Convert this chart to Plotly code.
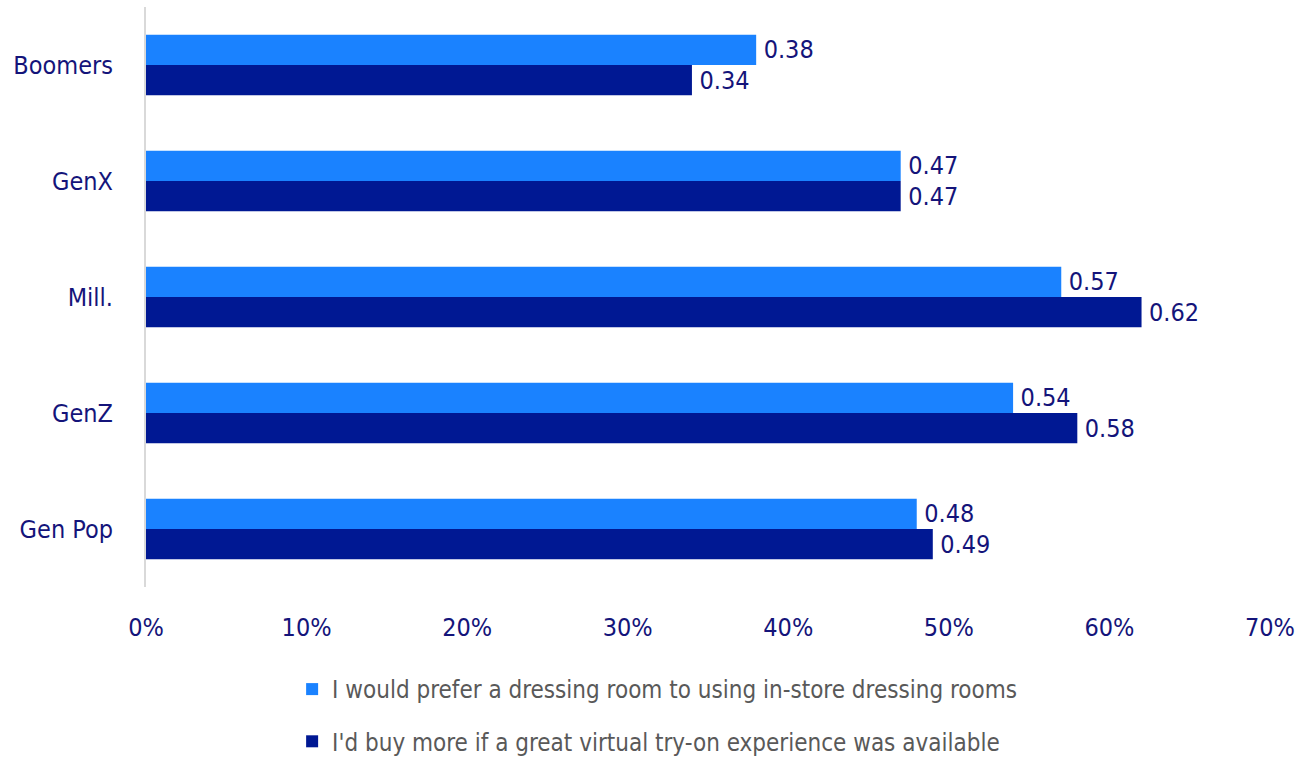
import plotly.graph_objects as go

categories = ["Boomers", "GenX", "Mill.", "GenZ", "Gen Pop"]
prefer_room = [0.38, 0.47, 0.57, 0.54, 0.48]
buy_more = [0.34, 0.47, 0.62, 0.58, 0.49]
series_names = [
    "I would prefer a dressing room to using in-store dressing rooms",
    "I'd buy more if a great virtual try-on experience was available",
]
tick_vals = [0, 0.1, 0.2, 0.3, 0.4, 0.5, 0.6, 0.7]

FONT = "Liberation Sans Narrow, DejaVu Sans Condensed, Roboto Condensed, Arial Narrow, sans-serif"
NAVY = "#14147a"

fig = go.Figure()
for name, vals, color, grp in [
    (series_names[0], prefer_room, "#1a82ff", "a"),
    (series_names[1], buy_more, "#001893", "b"),
]:
    fig.add_trace(go.Bar(
        y=categories, x=vals, orientation="h", name=name,
        marker=dict(color=color, line=dict(width=0)),
        text=["\u2009" + f"{v:.2f}" for v in vals], textposition="outside",
        textfont=dict(family=FONT, size=25, color=NAVY),
        cliponaxis=False, legendgroup=grp,
    ))

fig.update_layout(
    width=1315, height=758,
    margin=dict(l=146, r=45, t=7, b=171, autoexpand=False),
    paper_bgcolor="white", plot_bgcolor="white",
    barmode="group", bargap=0.48, bargroupgap=0,
    font=dict(family=FONT, size=25, color=NAVY),
    xaxis=dict(range=[0, 0.7], tickvals=tick_vals, tickformat=".0%",
               showgrid=False, zeroline=False, showline=False,
               ticks="", ticklabelstandoff=23,
               tickfont=dict(family=FONT, size=25, color=NAVY)),
    yaxis=dict(autorange="reversed", showgrid=False, zeroline=False,
               showline=True, linecolor="#d9d9d9", linewidth=2,
               ticks="", ticklabelstandoff=26,
               tickfont=dict(family=FONT, size=25, color=NAVY)),
    legend=dict(orientation="v", x=0.13, xanchor="left",
                yref="container", y=1 - 667 / 758, yanchor="top",
                traceorder="grouped", tracegroupgap=18,
                font=dict(family=FONT, size=24, color="#595959"),
                itemwidth=30, bgcolor="rgba(0,0,0,0)"),
    showlegend=True,
)

fig.write_html("out.html")
